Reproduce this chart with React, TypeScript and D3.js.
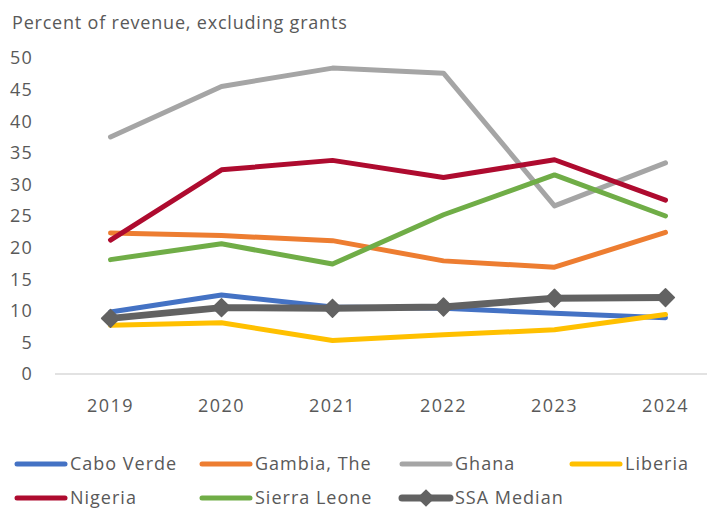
import * as d3 from 'd3';
import React, { useRef, useEffect } from 'react';

const years = ['2019', '2020', '2021', '2022', '2023', '2024'];
const yTicks = [0, 5, 10, 15, 20, 25, 30, 35, 40, 45, 50];

const caboVerde = [9.8, 12.5, 10.6, 10.4, 9.6, 8.9];
const gambia = [22.3, 21.9, 21.1, 17.9, 16.9, 22.4];
const ghana = [37.5, 45.5, 48.4, 47.6, 26.6, 33.4];
const liberia = [7.7, 8.1, 5.3, 6.2, 7.0, 9.4];
const nigeria = [21.2, 32.3, 33.8, 31.1, 33.9, 27.5];
const sierraLeone = [18.1, 20.6, 17.4, 25.2, 31.5, 25.0];
const ssaMedian = [8.8, 10.5, 10.4, 10.6, 12.0, 12.1];

const seriesNames = ['Cabo Verde', 'Gambia, The', 'Ghana', 'Liberia', 'Nigeria', 'Sierra Leone', 'SSA Median'];
const seriesValues = [caboVerde, gambia, ghana, liberia, nigeria, sierraLeone, ssaMedian];
const colors = ['#4472C4', '#ED7D31', '#A5A5A5', '#FFC000', '#AE0B2F', '#70AD47', '#626262'];

const FONT = "'Open Sans', sans-serif";
const TEXT = '#595959';

function App() {
  const ref = useRef<SVGSVGElement>(null);

  useEffect(() => {
    const svg = d3.select(ref.current);
    svg.selectAll('*').remove();

    const x = d3.scaleBand().domain(years).range([55, 721]);
    const cx = (d: string) => (x(d) as number) + x.bandwidth() / 2;
    const y = d3.scaleLinear().domain([0, 50]).range([374, 58]);

    // title
    svg.append('text')
      .attr('x', 12).attr('y', 29)
      .attr('font-family', FONT).attr('font-size', 18).attr('fill', TEXT)
      .attr('letter-spacing', 0.8)
      .text('Percent of revenue, excluding grants');

    // y labels
    svg.append('g').selectAll('text')
      .data(yTicks).enter().append('text')
      .attr('x', 33).attr('y', d => y(d))
      .attr('dy', '0.35em')
      .attr('text-anchor', 'end')
      .attr('font-family', FONT).attr('font-size', 18).attr('fill', TEXT)
      .attr('letter-spacing', 1.2)
      .text(d => d);

    // x axis line
    svg.append('line')
      .attr('x1', 55).attr('x2', 721)
      .attr('y1', y(0)).attr('y2', y(0))
      .attr('stroke', '#D9D9D9').attr('stroke-width', 1.5);

    svg.append('g').selectAll('text')
      .data(years).enter().append('text')
      .attr('x', d => cx(d)).attr('y', 406)
      .attr('dy', '0.35em')
      .attr('text-anchor', 'middle')
      .attr('font-family', FONT).attr('font-size', 18).attr('fill', TEXT)
      .attr('letter-spacing', 1.4)
      .text(d => d);

    const line = d3.line<number>()
      .x((d, i) => cx(years[i]))
      .y(d => y(d));

    seriesValues.forEach((vals, si) => {
      const isMedian = si === seriesValues.length - 1;
      svg.append('path')
        .attr('d', line(vals))
        .attr('fill', 'none')
        .attr('stroke', colors[si])
        .attr('stroke-width', isMedian ? 7 : 5)
        .attr('stroke-linejoin', 'round')
        .attr('stroke-linecap', 'round');
      if (isMedian) {
        svg.append('g').selectAll('path')
          .data(vals).enter().append('path')
          .attr('d', d3.symbol().type(d3.symbolDiamond2).size(200)())
          .attr('transform', (d, i) => `translate(${cx(years[i])},${y(d)})`)
          .attr('fill', colors[si])
          .attr('stroke', colors[si])
          .attr('stroke-width', 1.5)
          .attr('stroke-linejoin', 'round');
      }
    });

    // legend
    const legendX = [15, 200, 400, 570];
    const legendY = [464, 498];
    seriesNames.forEach((name, i) => {
      const lx = legendX[i % 4];
      const ly = legendY[Math.floor(i / 4)];
      const g = svg.append('g').attr('transform', `translate(${lx},${ly})`);
      g.append('line')
        .attr('x1', 2).attr('x2', 50)
        .attr('stroke', colors[i])
        .attr('stroke-width', i === 6 ? 7 : 5)
        .attr('stroke-linecap', 'round');
      if (i === 6) {
        g.append('path')
          .attr('d', d3.symbol().type(d3.symbolDiamond2).size(200)())
          .attr('transform', 'translate(26,0)')
          .attr('fill', colors[i]);
      }
      g.append('text')
        .attr('x', 55).attr('dy', '0.35em')
        .attr('font-family', FONT).attr('font-size', 18).attr('fill', TEXT)
        .attr('letter-spacing', 1)
        .text(name);
    });
  }, []);

  return (
    <svg ref={ref} width={707} height={508}
      style={{ position: 'absolute', left: 0, top: 0, background: '#fff' }} />
  );
}

export default App;
